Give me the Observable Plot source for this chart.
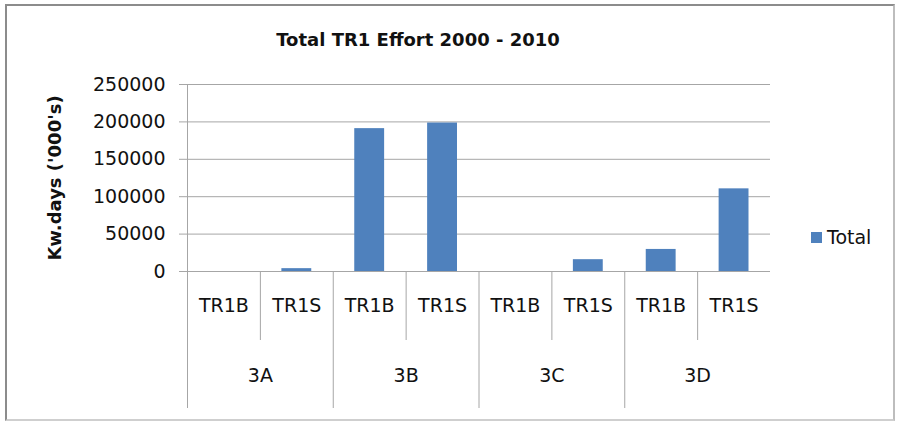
<!DOCTYPE html>
<html>
<head>
<meta charset="utf-8">
<script src="https://cdn.jsdelivr.net/npm/d3@7"></script>
<script src="https://cdn.jsdelivr.net/npm/@observablehq/plot@0.6"></script>
<style>
  html, body { margin: 0; padding: 0; background: #fff; }
  #wrap { position: relative; width: 897px; height: 421px; overflow: hidden; font-family: "DejaVu Sans", sans-serif; }
  #border { position: absolute; left: 5px; top: 4px; width: 886px; height: 413px; border-left: 2px solid #8c8c8c; border-top: 2px solid #8c8c8c; border-right: 2px solid #bdbdbd; border-bottom: 2px solid #cfcfcf; pointer-events: none; }
  #title { position: absolute; left: 418px; top: 29px; transform: translateX(-50%); font-weight: bold; font-size: 18px; color: #111; white-space: nowrap; }
  #legend { position: absolute; left: 811px; top: 226px; font-size: 19px; color: #111; white-space: nowrap; display: flex; align-items: center; }
  #legend span.sw { display: inline-block; width: 11px; height: 11px; background: #4F81BD; margin-right: 5px; }
  #chart { position: absolute; left: 0; top: 0; }
</style>
</head>
<body>
<div id="wrap">
  <div id="chart"></div>
  <div id="title">Total TR1 Effort 2000 - 2010</div>
  <div id="legend"><span class="sw"></span><span>Total</span></div>
  <div id="border"></div>
</div>
<script>
const regions = ["3A", "3B", "3C", "3D"];
const gears = ["TR1B", "TR1S"];
const tr1bValues = [0, 191000, 0, 29500];
const tr1sValues = [3800, 198500, 15800, 110500];
const yTicks = [0, 50000, 100000, 150000, 200000, 250000];
const yLabel = "Kw.days ('000's)";
const seriesName = "Total";

const rows = [];
regions.forEach((r, k) => {
  rows.push({i: 2 * k, region: r, gear: gears[0], value: tr1bValues[k]});
  rows.push({i: 2 * k + 1, region: r, gear: gears[1], value: tr1sValues[k]});
});
const groupRows = regions.map((r, k) => ({region: r, start: 2 * k, end: 2 * k + 2}));
const subEdges = regions.map((r, k) => 2 * k + 1);
const groupEdges = regions.map((r, k) => 2 * k);

const grid = "#a6a6a6";
const chart = Plot.plot({
  width: 897,
  height: 421,
  marginTop: 84,
  marginBottom: 150,
  marginLeft: 187,
  marginRight: 127,
  style: {fontFamily: "DejaVu Sans, sans-serif", color: "#111", background: "transparent"},
  x: {type: "linear", domain: [0, regions.length * 2], axis: null},
  y: {domain: [0, 250000], axis: null},
  marks: [
    Plot.gridY(yTicks, {stroke: grid, strokeOpacity: 1}),
    Plot.axisY(yTicks, {tickSize: 8, tickPadding: 14, tickFormat: d3.format("d"), fontSize: 19, stroke: grid, strokeOpacity: 1, label: null}),
    Plot.rectY(rows, {x1: "i", x2: d => d.i + 1, y: "value", insetLeft: 21.5, insetRight: 21.5, fill: "#4F81BD"}),
    Plot.ruleX([0], {stroke: grid}),
    Plot.ruleX(subEdges, {stroke: grid, insetTop: 187, insetBottom: -69}),
    Plot.ruleX(groupEdges, {stroke: grid, insetTop: 187, insetBottom: -137}),
    Plot.ruleY([0], {stroke: grid}),
    Plot.text(rows, {x: d => d.i + 0.5, text: "gear", frameAnchor: "bottom", dy: 40, fontSize: 19}),
    Plot.text(groupRows, {x: d => (d.start + d.end) / 2, text: "region", frameAnchor: "bottom", dy: 110, fontSize: 19}),
    Plot.text([yLabel], {frameAnchor: "left", textAnchor: "middle", rotate: -90, dx: -132, fontSize: 18, fontWeight: "bold"})
  ]
});
document.getElementById("chart").appendChild(chart);
document.querySelector("#legend span:last-child").textContent = seriesName;
</script>
</body>
</html>
